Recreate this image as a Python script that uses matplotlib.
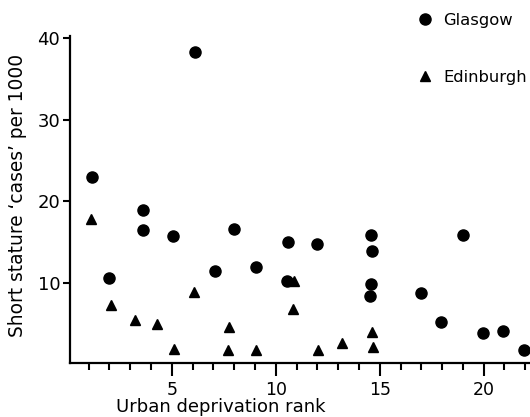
import matplotlib
matplotlib.use("Agg")
import matplotlib.pyplot as plt

# Data
glasgow_rank = [1.15, 2.0, 3.6, 3.6, 5.07, 6.12, 7.08, 8.0, 9.03, 10.59, 10.52, 12.0,
                14.56, 14.63, 14.56, 14.51, 16.98, 17.96, 18.99, 19.95, 20.94, 21.95]
glasgow_cases = [23.0, 10.7, 18.9, 16.5, 15.8, 38.2, 11.5, 16.6, 12.0, 15.0, 10.3, 14.8,
                 15.9, 13.9, 9.95, 8.45, 8.8, 5.3, 15.9, 3.9, 4.2, 1.8]

edinburgh_rank = [1.12, 2.06, 3.22, 4.27, 5.09, 6.08, 7.74, 7.70, 9.05, 10.89, 10.81,
                  12.03, 13.17, 14.64, 14.66]
edinburgh_cases = [17.9, 7.3, 5.5, 5.0, 2.0, 8.9, 4.7, 1.85, 1.9, 10.3, 6.9,
                   1.8, 2.7, 4.0, 2.2]

x_major = [5, 10, 15, 20]
x_minor = list(range(1, 23))
y_ticks = [10, 20, 30, 40]

W, H = 530, 417
fig = plt.figure(figsize=(W / 100, H / 100), dpi=100)
ax_h = 363.3 - 36
ax = fig.add_axes([70 / W, 1 - 363.3 / H, 460 / W, ax_h / H])

ax.plot(glasgow_rank, glasgow_cases, 'o', color='black', ms=8, mec='black',
        linestyle='none', label='Glasgow', clip_on=False)
ax.plot(edinburgh_rank, edinburgh_cases, '^', color='black', ms=7, mec='black',
        linestyle='none', label='Edinburgh', clip_on=False)

ax.set_xlim(0.1, 22.23)
ax.set_ylim(0.23, 40.2)

for s in ['top', 'right']:
    ax.spines[s].set_visible(False)
for s in ['left', 'bottom']:
    ax.spines[s].set_linewidth(1.6)
    ax.spines[s].set_color('black')

ax.set_xticks(x_major)
ax.set_xticks(x_minor, minor=True)
ax.set_yticks(y_ticks)
ax.tick_params(axis='x', which='major', direction='out', length=9, width=1.5,
               labelsize=12.5, pad=4)
ax.tick_params(axis='x', which='minor', direction='out', length=5, width=1.5)
ax.tick_params(axis='y', which='major', direction='out', length=5, width=1.5,
               labelsize=13, pad=2)

ax.set_xlabel('Urban deprivation rank', fontsize=13)
ax.xaxis.set_label_coords((221 - 70) / 460, (363.3 - 398) / ax_h)
ax.set_ylabel("Short stature \u2018cases\u2019 per 1000", fontsize=13.4)
ax.yaxis.set_label_coords((27 - 70) / 460, (363.3 - 195) / ax_h)

leg = fig.legend(loc='upper left', bbox_to_anchor=(417 / W, 1 - 13 / H),
                 frameon=False, fontsize=11.8, handlelength=1.0, handletextpad=0.6,
                 labelspacing=2.55, borderaxespad=0, borderpad=0)

fig.savefig('out.png', dpi=100)
